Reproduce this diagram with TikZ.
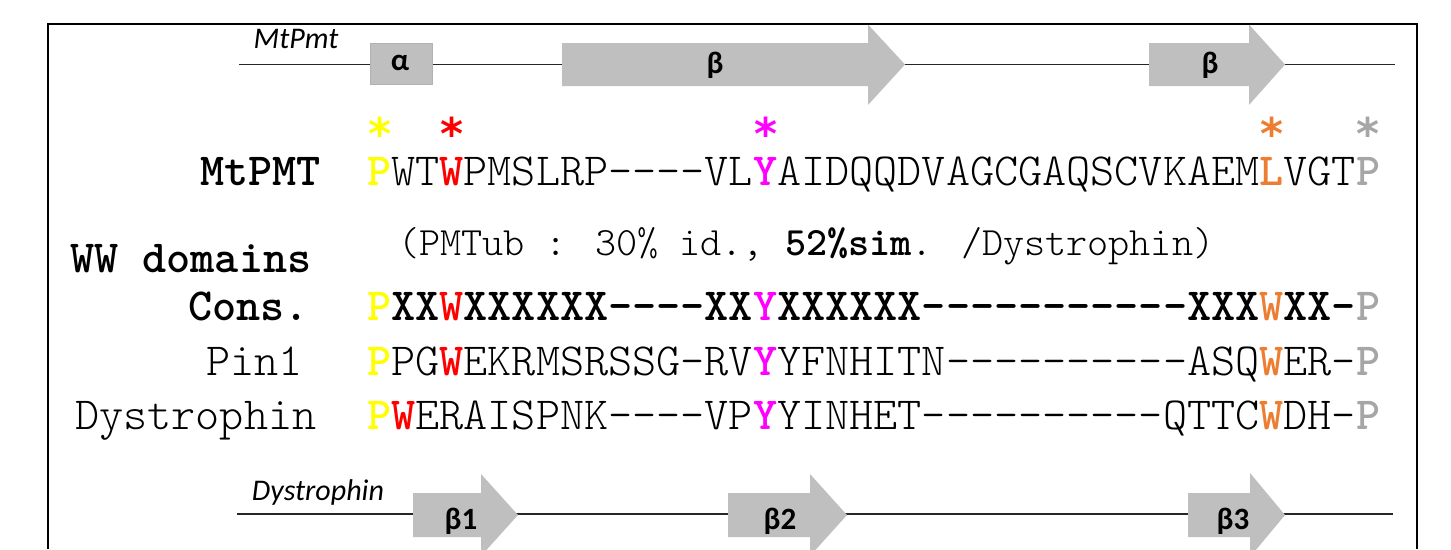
\documentclass[tikz,border=0pt]{standalone}
\usepackage{fontspec}
\setmainfont{Carlito}
\newfontfamily\seqfont{lmmonolt10-regular.otf}[BoldFont=lmmonolt10-bold.otf]
\newfontfamily\starfont{DejaVu Sans}
\definecolor{cyel}{HTML}{FFFF00}
\definecolor{cred}{HTML}{FF0000}
\definecolor{cmag}{HTML}{FF00FF}
\definecolor{corg}{HTML}{ED7D31}
\definecolor{cgry}{HTML}{A6A6A6}
\definecolor{ssgray}{HTML}{BFBFBF}
\newcommand\hlY[1]{\textcolor{cyel}{\textbf{#1}}}
\newcommand\hlR[1]{\textcolor{cred}{\textbf{#1}}}
\newcommand\hlM[1]{\textcolor{cmag}{\textbf{#1}}}
\newcommand\hlO[1]{\textcolor{corg}{\textbf{#1}}}
\newcommand\hlG[1]{\textcolor{cgry}{\textbf{#1}}}
\newcommand\hy{-\kern0pt }
\begin{document}
\begin{tikzpicture}[x=1pt,y=-1pt,
  seqrow/.style={anchor=base west, inner sep=0pt, font=\seqfont\fontsize{45.94}{52}\selectfont},
  rowlab/.style={anchor=base west, inner sep=0pt, font=\seqfont\fontsize{45.94}{52}\selectfont},
  note/.style={anchor=base west, inner sep=0pt, font=\seqfont\fontsize{40.2}{46}\selectfont},
  starmark/.style={anchor=base, inner sep=0pt, font=\starfont\bfseries\fontsize{44}{50}\selectfont},
  ssbox/.style={fill=ssgray, draw=none},
  sslab/.style={inner sep=0pt, font=\bfseries\fontsize{31}{36}\selectfont},
  protlab/.style={inner sep=0pt, font=\itshape\fontsize{30}{36}\selectfont},
  backbone/.style={draw=black!85, line width=1.1pt}]
\useasboundingbox (0,0) rectangle (1451,549);
% frame
\draw[line width=1.8pt] (48,549) -- (48,24) -- (1417,24) -- (1417,549);

% ---- MtPmt secondary structure
\node[protlab] (topname) at (296,39) {MtPmt};
\coordinate (tl) at (239,64.5);
\coordinate (tr) at (1395,64.5);
\draw[backbone] (tl) -- (tr);
\draw[ssbox, draw=black!30, line width=0.6pt] (370,43) rectangle (432,84);
\node[sslab] (alpha) at (400,63) {α};
\fill[ssbox] (562,43) -- (868,43) -- (868,24.5) -- (905,64.5) -- (868,105) -- (868,86) -- (562,86) -- cycle;
\node[sslab] (b1) at (715,65) {β};
\fill[ssbox] (1149,43) -- (1249,43) -- (1249,24.5) -- (1285,64.5) -- (1249,105) -- (1249,86) -- (1149,86) -- cycle;
\node[sslab] (b2) at (1210,65) {β};

% ---- stars (low asterisk, so the glyph sits on its baseline)
\node[starmark, text=cyel] (s1) at (380,137) {⁎};
\node[starmark, text=cred] (s2) at (452,137) {⁎};
\node[starmark, text=cmag] (s3) at (766,137) {⁎};
\node[starmark, text=corg] (s4) at (1272,137) {⁎};
\node[starmark, text=cgry] (s5) at (1368,137) {⁎};

% ---- labels
\node[rowlab] (lmt) at (200,185) {\textbf{MtPMT}};
\node[rowlab] (lww) at (70,272) {\textbf{WW domains}};
\node[rowlab] (lcons) at (188,320) {\textbf{Cons.}};
\node[rowlab] (lpin) at (206,375) {Pin1};
\node[rowlab] (ldys) at (75,429) {Dystrophin};

% ---- sequences
\node[seqrow] (rmt) at (367,185) {\hlY{P}WT\hlR{W}PMSLRP\hy\hy\hy\hy VL\hlM{Y}AIDQQDVAGCGAQSCVKAEM\hlO{L}VGT\hlG{P}};
\node[note] (rnote) at (398,255) {(PMTub : 30\% id., \textbf{52\%sim}. /Dystrophin)};
\node[seqrow] (rcons) at (367,320) {\bfseries\hlY{P}XX\hlR{W}XXXXXX\hy\hy\hy\hy XX\hlM{Y}XXXXXX\hy\hy\hy\hy\hy\hy\hy\hy\hy\hy\hy XXX\hlO{W}XX\hy\hlG{P}};
\node[seqrow] (rpin) at (367,375) {\hlY{P}PG\hlR{W}EKRMSRSSG\hy RV\hlM{Y}YFNHITN\hy\hy\hy\hy\hy\hy\hy\hy\hy\hy ASQ\hlO{W}ER\hy\hlG{P}};
\node[seqrow] (rdys) at (367,429) {\hlY{P}\hlR{W}ERAISPNK\hy\hy\hy\hy VP\hlM{Y}YINHET\hy\hy\hy\hy\hy\hy\hy\hy\hy\hy QTTC\hlO{W}DH\hy\hlG{P}};

% ---- Dystrophin secondary structure
\node[protlab] (botname) at (318,492) {Dystrophin};
\coordinate (bl) at (237,514);
\coordinate (br) at (1393,514);
\draw[backbone] (bl) -- (br);
\fill[ssbox] (413,493) -- (481,493) -- (481,474) -- (518,515) -- (481,556) -- (481,537) -- (413,537) -- cycle;
\node[sslab] (d1) at (461,521) {β1};
\fill[ssbox] (728,493) -- (810,493) -- (810,474) -- (847,515) -- (810,556) -- (810,537) -- (728,537) -- cycle;
\node[sslab] (d2) at (780,521) {β2};
\fill[ssbox] (1188,493) -- (1250,493) -- (1250,473) -- (1285,515) -- (1250,557) -- (1250,537) -- (1188,537) -- cycle;
\node[sslab] (d3) at (1233,521) {β3};
\end{tikzpicture}
\end{document}
